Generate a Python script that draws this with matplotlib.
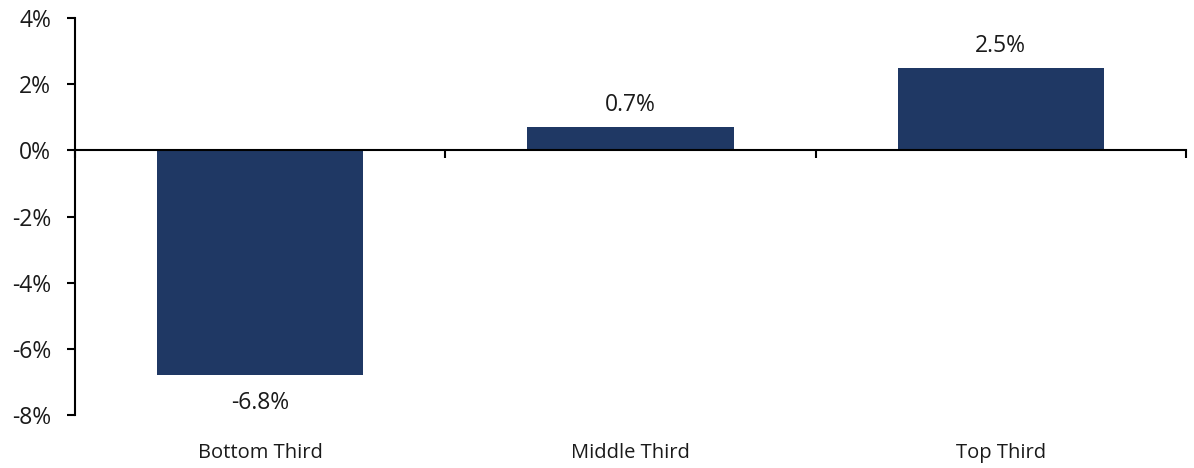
import matplotlib
matplotlib.use("Agg")
import matplotlib.pyplot as plt
import matplotlib.transforms as mtransforms
import numpy as np

categories = ["Bottom Third", "Middle Third", "Top Third"]
values = [-6.8, 0.7, 2.5]
yticks = [-8, -6, -4, -2, 0, 2, 4]

plt.rcParams['font.family'] = ['Open Sans', 'DejaVu Sans']
color = "#1F3864"
tcolor = "#1a1a1a"

fig = plt.figure(figsize=(11.94, 4.68), dpi=100)
ax = fig.add_axes([0.0628, 0.1132, 0.9305, 0.8483])

x = np.arange(len(categories))
ax.bar(x, values, width=0.557, color=color, zorder=2)

ax.set_xlim(-0.5, len(categories) - 0.5)
ax.set_ylim(-8, 4)
ax.set_yticks(yticks)
ax.set_yticklabels([f"{v}%" for v in yticks], fontsize=16.5, color=tcolor)
ax.tick_params(axis='y', length=6, width=1.5, direction='out', pad=11)

ax.spines['top'].set_visible(False)
ax.spines['right'].set_visible(False)
ax.spines['left'].set_linewidth(1.5)
ax.spines['bottom'].set_position(('data', 0))
ax.spines['bottom'].set_linewidth(1.5)
ax.spines['bottom'].set_zorder(3)

ax.set_xticks(np.arange(len(categories) + 1) - 0.5)
ax.set_xticklabels([])
ax.tick_params(axis='x', length=6, width=1.5, direction='out')

trans = mtransforms.blended_transform_factory(ax.transData, ax.transAxes)
for xi, cat in zip(x, categories):
    ax.text(xi, -0.095, cat, transform=trans, ha='center', va='center',
            fontsize=14.5, color=tcolor)

for xi, v in zip(x, values):
    if v >= 0:
        ax.annotate(f"{v:.1f}%", (xi, v), xytext=(0, 7), textcoords='offset points',
                    ha='center', va='bottom', fontsize=16.5, color=tcolor)
    else:
        ax.annotate(f"{v:.1f}%", (xi, v), xytext=(0, -11), textcoords='offset points',
                    ha='center', va='top', fontsize=16.5, color=tcolor)

fig.savefig("out.png", dpi=100)
